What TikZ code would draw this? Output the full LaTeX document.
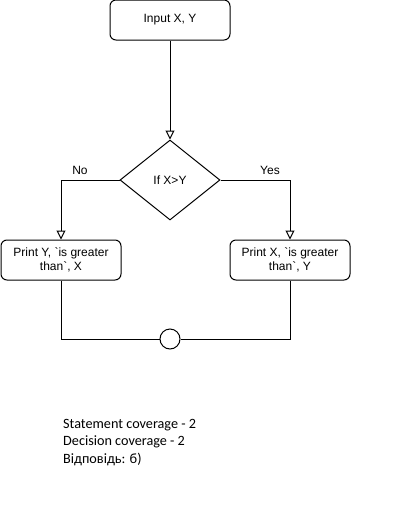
\documentclass[tikz,border=0pt]{standalone}
\usepackage{fontspec}
\setmainfont{Liberation Sans}[Ligatures=TeXOff]
\newfontfamily\notefont{Carlito}
\usetikzlibrary{arrows.meta,shapes.geometric}
\begin{document}
\begin{tikzpicture}[x=1pt,y=-1pt,
  box/.style={draw,line width=1pt,rounded corners=6pt,minimum width=120pt,minimum height=40pt,inner sep=0pt,align=center,font=\fontsize{12}{14}\selectfont},
  dec/.style={draw,line width=1pt,diamond,minimum width=100pt,minimum height=80pt,inner sep=0pt,aspect=1.25,font=\fontsize{12}{14}\selectfont},
  mergecircle/.style={draw,line width=1pt,circle,minimum size=20pt,inner sep=0pt},
  lbl/.style={font=\fontsize{12}{14}\selectfont,inner sep=0pt},
  note/.style={font=\notefont\fontsize{14.2}{17.7}\selectfont,inner sep=0pt,anchor=base west},
  flow/.style={line width=1pt,-{Triangle[open,length=9pt,width=9pt]}},
  plainline/.style={line width=1pt}]
\useasboundingbox (0,0) rectangle (413,523);
\fill[white] (0,0) rectangle (413,523);
\node[box] (in) at (170,20) {Input X, Y};
\node[dec] (d) at (170,180) {If X>Y};
\node[box] (pl) at (61,260) {Print Y, `is greater\\than`, X};
\node[box] (pr) at (290,260) {Print X, `is greater\\than`, Y};
\node[mergecircle] (j) at (170,339) {};
\node[lbl] (no) at (80,170) {No};
\node[lbl] (yes) at (270,170) {Yes};
\draw[flow] (in) -- (d);
\draw[flow] (d.west) -| (pl);
\draw[flow] (d.east) -| (pr);
\draw[plainline] (pl) |- (j);
\draw[plainline] (pr) |- (j);
\node[note] (n1) at (63,428) {Statement coverage - 2};
\node[note] (n2) at (63,445.7) {Decision coverage - 2};
\node[note] (n3) at (63,463.4) {Відповідь: б)};
\end{tikzpicture}
\end{document}
